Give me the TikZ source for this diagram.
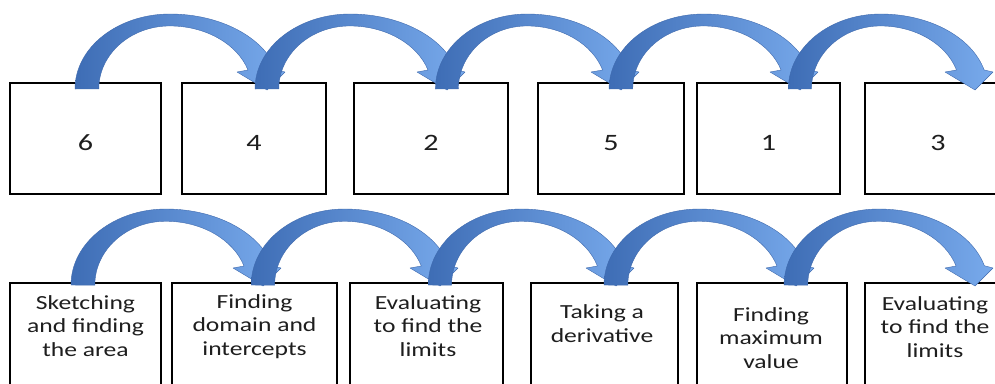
\documentclass[tikz,border=0pt]{standalone}
\usepackage{fontspec}
\newfontfamily\boxfont[FakeStretch=1.28]{Carlito}
\usetikzlibrary{calc}

\definecolor{arrowdark}{HTML}{3E6DB5}
\definecolor{arrowlight}{HTML}{78AAEC}
\definecolor{arrowedge}{HTML}{3F6AAE}
\definecolor{inktext}{HTML}{1E1E1E}

\tikzset{
  box/.style={draw=black, line width=1.4pt, fill=white, inner sep=0pt},
  toprow/.style={box, minimum height=111pt},
  bottomrow/.style={box, minimum height=112pt},
  numlabel/.style={font=\boxfont\fontsize{23.5}{24}\selectfont, text=inktext,
    anchor=base, inner sep=0pt},
  % multi-line labels are placed by the baseline of their last line
  steplabel/.style={font=\boxfont\fontsize{20}{23.5}\selectfont, text=inktext,
    align=center, anchor=base, inner sep=0pt},
  arrowbody/.style={left color=arrowdark, right color=arrowlight,
    draw=arrowedge, line width=0.4pt, line join=round}
}

% Curved block arrow: tail centred on #1, tip at #2, outer arc rising #3
\newcommand\bendarrow[3]{%
  \path[arrowbody] let \p1=(#1), \p2=(#2), \n1={(\x2-\x1)/180} in
    ({\x1-12*\n1},\y1)
    arc[start angle=180, end angle=90, x radius={95*\n1}, y radius=#3]
    arc[start angle=90, end angle=14.7, x radius={110*\n1}, y radius=#3]
    -- ({\x2+18pt},{\y1+17pt})
    -- (\x2,{\y1-1pt})
    -- ({\x2-30pt},{\y1+17pt})
    -- ({\x1+161*\n1},{\y1+19pt})
    arc[start angle=17.5, end angle=90, x radius={82*\n1}, y radius={#3-12pt}]
    arc[start angle=90, end angle=180, x radius={71*\n1}, y radius={#3-12pt}]
    -- cycle;
}

\begin{document}
\begin{tikzpicture}[x=1pt, y=1pt]
  \useasboundingbox (0,0) rectangle (995,-383);
  \fill[white] (0,0) rectangle (995,-383);
  \clip (0,0) rectangle (995,-383);

  % upper row of numbered boxes
  \node[toprow, minimum width=151pt] (t1) at (85.5,-138.5) {};
  \node[toprow, minimum width=144pt] (t2) at (254,-138.5) {};
  \node[toprow, minimum width=154pt] (t3) at (431,-138.5) {};
  \node[toprow, minimum width=146pt] (t4) at (611,-138.5) {};
  \node[toprow, minimum width=143pt] (t5) at (768.5,-138.5) {};
  \node[toprow, minimum width=146pt] (t6) at (938,-138.5) {};

  \node[numlabel] (n1) at (85.5,-150) {6};
  \node[numlabel] (n2) at (254,-150) {4};
  \node[numlabel] (n3) at (431,-150) {2};
  \node[numlabel] (n4) at (611,-150) {5};
  \node[numlabel] (n5) at (768.5,-150) {1};
  \node[numlabel] (n6) at (938,-150) {3};

  % lower row of step boxes
  \node[bottomrow, minimum width=151pt] (b1) at (85.5,-339) {};
  \node[bottomrow, minimum width=165pt] (b2) at (254.5,-339) {};
  \node[bottomrow, minimum width=153pt] (b3) at (426.5,-339) {};
  \node[bottomrow, minimum width=147pt] (b4) at (604.5,-339) {};
  \node[bottomrow, minimum width=150pt] (b5) at (772,-339) {};
  \node[bottomrow, minimum width=140pt] (b6) at (935,-339) {};

  \node[steplabel] (s1) at (85.5,-356) {Sketching\\and finding\\the area};
  \node[steplabel] (s2) at (254.5,-355) {Finding\\domain and\\intercepts};
  \node[steplabel] (s3) at (428,-356) {Evaluating\\to find the\\limits};
  \node[steplabel] (s4) at (602,-342) {Taking a\\derivative};
  \node[steplabel] (s5) at (771,-368) {Finding\\maximum\\value};
  \node[steplabel] (s6) at (935,-357) {Evaluating\\to find the\\limits};

  % attachment points of the arrows
  \coordinate (u1) at (87,-89);
  \coordinate (u2) at (267,-89);
  \coordinate (u3) at (447,-89);
  \coordinate (u4) at (621,-89);
  \coordinate (u5) at (800,-89);
  \coordinate (u6) at (975,-89);

  \coordinate (d1) at (83,-285);
  \coordinate (d2) at (263,-285);
  \coordinate (d3) at (440,-285);
  \coordinate (d4) at (616,-285);
  \coordinate (d5) at (796,-285);
  \coordinate (d6) at (975,-285);

  % arrows, each drawn over the head of the one before
  \bendarrow{u1}{u2}{75pt}
  \bendarrow{u2}{u3}{75pt}
  \bendarrow{u3}{u4}{75pt}
  \bendarrow{u4}{u5}{75pt}
  \bendarrow{u5}{u6}{75pt}

  \bendarrow{d1}{d2}{76pt}
  \bendarrow{d2}{d3}{76pt}
  \bendarrow{d3}{d4}{76pt}
  \bendarrow{d4}{d5}{76pt}
  \bendarrow{d5}{d6}{76pt}
\end{tikzpicture}
\end{document}
